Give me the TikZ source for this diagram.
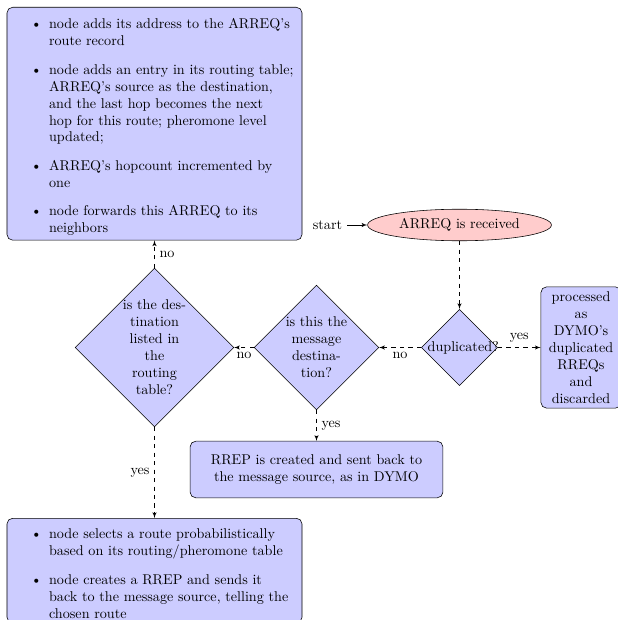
\documentclass[tikz,border=0pt]{standalone}
\usetikzlibrary{shapes.geometric,arrows}
\newcommand{\myragged}{\rightskip=0pt plus 2em\relax\spaceskip=.3333em\relax\xspaceskip=.5em\relax\parfillskip=0pt plus 1fil\relax}
\begin{document}
\begin{tikzpicture}[x=0.7067pt,y=-0.7067pt,
  decision/.style={diamond, draw, fill=blue!20, text width=4.5em, text badly centered, inner sep=0pt},
  block/.style={rectangle, draw, fill=blue!20, text width=5em, text centered, rounded corners, minimum height=4em},
  bigbox/.style={rectangle, draw, fill=blue!20, inner xsep=4.75pt, rounded corners},
  cloud/.style={draw, ellipse, fill=red!20, minimum height=2em},
  line/.style={draw, -latex'},
  dline/.style={draw, dashed, -latex'}]
\useasboundingbox (0,0) rectangle (617,620);
\node[bigbox, anchor=north] (fwd) at (154.5,7) {\begin{minipage}{199pt}\myragged\vspace*{4.7pt}%
\begin{itemize}
\item node adds its address to the ARREQ's route record
\item node adds an entry in its routing table; ARREQ's source as the destination, and the last hop becomes the next hop for this route; pheromone level updated;
\item ARREQ's hopcount incremented by one
\item node forwards this ARREQ to its neighbors
\end{itemize}\end{minipage}};
\node (start) at (327.5,225) {start};
\node[cloud] (recv) at (459.5,225) {ARREQ is received};
\node[decision] (dup) at (459.5,347.5) {duplicated?};
\node[block] (proc) at (581,347.5) {processed as DYMO's duplicated RREQs and discarded};
\node[decision] (dest) at (316.5,347.5) {is this the message destination?};
\node[decision] (table) at (154.5,347.5) {is the destination listed in the routing table?};
\node[block, text width=172pt] (rrep) at (316.5,469.5) {RREP is created and sent back to the message source, as in DYMO};
\node[bigbox, anchor=north] (sel) at (154.5,518) {\begin{minipage}{199pt}\myragged\vspace*{4.2pt}%
\begin{itemize}
\item node selects a route probabilistically based on its routing/pheromone table
\item node creates a RREP and sends it back to the message source, telling the chosen route
\end{itemize}\end{minipage}};
\path[line] (start) -- (recv);
\path[dline] (recv) -- (dup);
\path[dline] (dup) -- node[above] {yes} (proc);
\path[dline] (dup) -- node[below] {no} (dest);
\path[dline] (dest) -- node[below] {no} (table);
\path[dline] (dest) -- node[right] {yes} (rrep);
\path[dline] (table) -- node[right] {no} (fwd);
\path[dline] (table) -- node[left] {yes} (sel);
\end{tikzpicture}
\end{document}
